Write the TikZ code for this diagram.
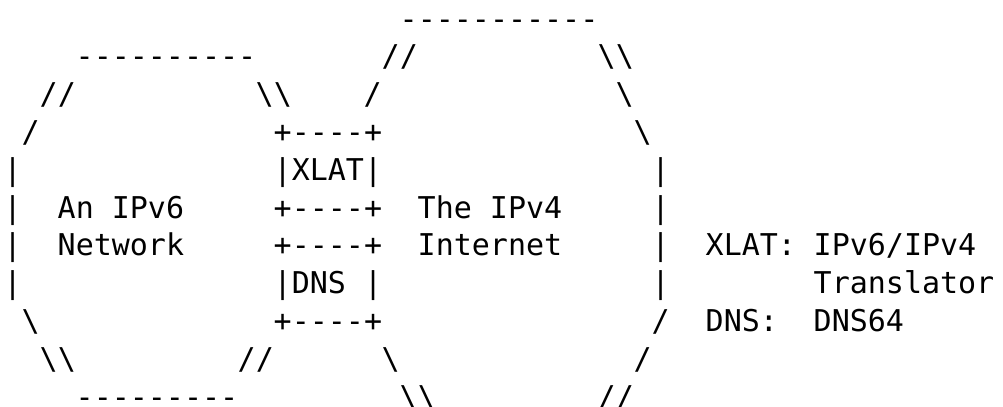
\documentclass[tikz,border=0pt]{standalone}
\usepackage{fontspec}
\setmonofont{DejaVu Sans Mono}
\tikzset{
	ascii/.style = {anchor=base west, inner sep=0pt, outer sep=0pt,
		font=\ttfamily\fontsize{15}{18}\selectfont}
}
\newcommand{\bsl}{\textbackslash}

\begin{document}
\begin{tikzpicture}[x=9pt, y=-18.9pt]
	\useasboundingbox ([shift={(-1.85pt,14.5pt)}]0,0) rectangle ++(501.5pt,-203.5pt);

	% IPv6 network cloud
	\node[ascii] (vTop)   at (4,1)  {----------};
	\node[ascii] (vTL)    at (2,2)  {//};
	\node[ascii] (vTR)    at (14,2) {\bsl\bsl};
	\node[ascii] (vL1)    at (1,3)  {/};
	\node[ascii] (vL2)    at (0,4)  {|};
	\node[ascii] (vL3)    at (0,5)  {|};
	\node[ascii] (vL4)    at (0,6)  {|};
	\node[ascii] (vL5)    at (0,7)  {|};
	\node[ascii] (vL6)    at (1,8)  {\bsl};
	\node[ascii] (vBL)    at (2,9)  {\bsl\bsl};
	\node[ascii] (vBR)    at (13,9) {//};
	\node[ascii] (vBot)   at (4,10) {---------};
	\node[ascii] (vName1) at (3,5)  {An IPv6};
	\node[ascii] (vName2) at (3,6)  {Network};

	% XLAT and DNS boxes
	\node[ascii] (xTop) at (15,3) {+----+};
	\node[ascii] (xlat) at (15,4) {|XLAT|};
	\node[ascii] (xBot) at (15,5) {+----+};
	\node[ascii] (dTop) at (15,6) {+----+};
	\node[ascii] (dns)  at (15,7) {|DNS |};
	\node[ascii] (dBot) at (15,8) {+----+};

	% IPv4 internet cloud
	\node[ascii] (iTop)   at (22,0) {-----------};
	\node[ascii] (iTL)    at (21,1) {//};
	\node[ascii] (iTR)    at (33,1) {\bsl\bsl};
	\node[ascii] (iL1)    at (20,2) {/};
	\node[ascii] (iR1)    at (34,2) {\bsl};
	\node[ascii] (iR2)    at (35,3) {\bsl};
	\node[ascii] (iR3)    at (36,4) {|};
	\node[ascii] (iR4)    at (36,5) {|};
	\node[ascii] (iR5)    at (36,6) {|};
	\node[ascii] (iR6)    at (36,7) {|};
	\node[ascii] (iR7)    at (36,8) {/};
	\node[ascii] (iL2)    at (21,9) {\bsl};
	\node[ascii] (iR8)    at (35,9) {/};
	\node[ascii] (iBL)    at (22,10) {\bsl\bsl};
	\node[ascii] (iBR)    at (33,10) {//};
	\node[ascii] (iName1) at (23,5) {The IPv4};
	\node[ascii] (iName2) at (23,6) {Internet};

	% legend
	\node[ascii] (kXlat) at (39,6) {XLAT:};
	\node[ascii] (tXlat) at (45,6) {IPv6/IPv4};
	\node[ascii] (tXlt2) at (45,7) {Translator};
	\node[ascii] (kDns)  at (39,8) {DNS:};
	\node[ascii] (tDns)  at (45,8) {DNS64};
\end{tikzpicture}
\end{document}
